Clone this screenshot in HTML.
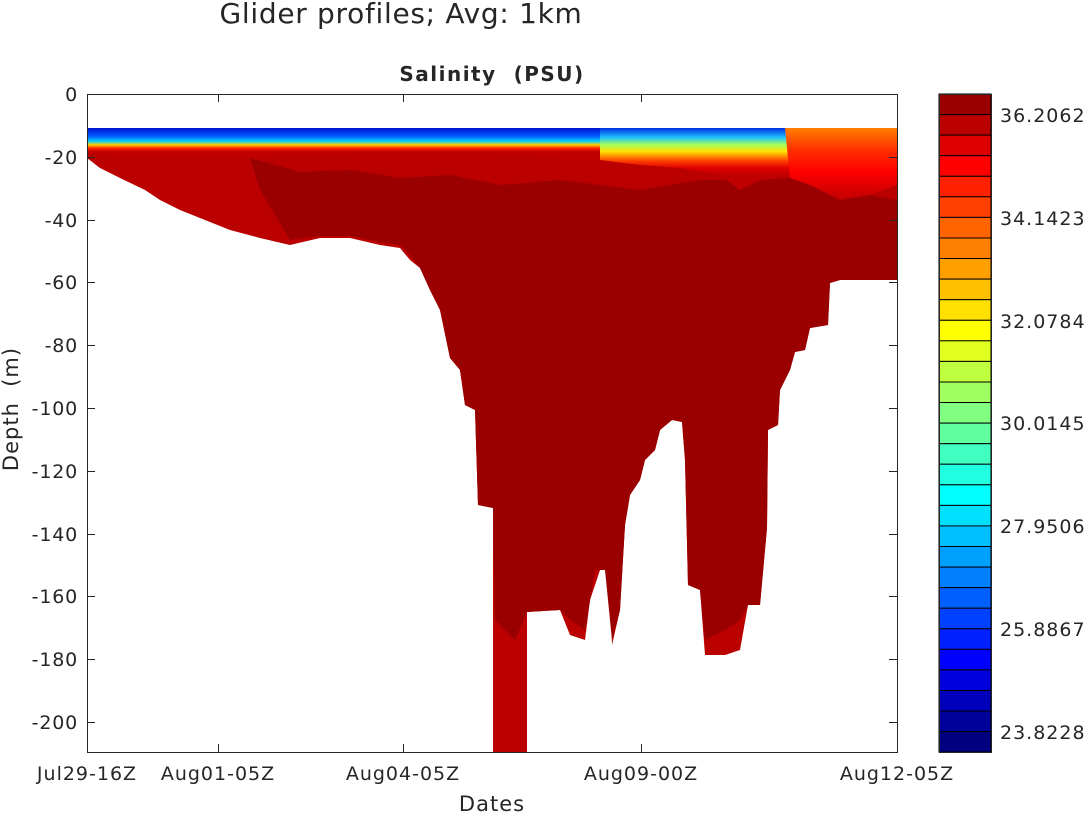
<!DOCTYPE html>
<html><head><meta charset="utf-8"><style>
body{margin:0;background:#fff;}
text{font-family:"DejaVu Sans","Liberation Sans",sans-serif;fill:#262626;}
</style></head><body>
<svg width="1086" height="814" xmlns="http://www.w3.org/2000/svg">
<defs>
<linearGradient id="gA" x1="0" y1="128" x2="0" y2="152" gradientUnits="userSpaceOnUse">
<stop offset="0" stop-color="#0010d0"/><stop offset="0.35" stop-color="#0060ff"/><stop offset="0.55" stop-color="#00d0ff"/><stop offset="0.7" stop-color="#ffd000"/><stop offset="0.85" stop-color="#ff2000"/><stop offset="1" stop-color="#c00000"/>
</linearGradient>
<linearGradient id="gB" x1="0" y1="128" x2="0" y2="175" gradientUnits="userSpaceOnUse">
<stop offset="0" stop-color="#0030e0"/><stop offset="0.2" stop-color="#20c0ff"/><stop offset="0.35" stop-color="#a0ff60"/><stop offset="0.5" stop-color="#ffe000"/><stop offset="0.7" stop-color="#ff4000"/><stop offset="0.85" stop-color="#e00000"/><stop offset="1" stop-color="#c00000"/>
</linearGradient>
<linearGradient id="gC" x1="0" y1="128" x2="0" y2="200" gradientUnits="userSpaceOnUse">
<stop offset="0" stop-color="#ff8000"/><stop offset="0.3" stop-color="#ff3000"/><stop offset="0.6" stop-color="#ff0000"/><stop offset="1" stop-color="#c00000"/>
</linearGradient>
</defs>
<text x="401" y="23" font-size="28" letter-spacing="0.7" text-anchor="middle">Glider profiles; Avg: 1km</text>
<text x="492" y="81" font-size="20" font-weight="bold" letter-spacing="1.5" text-anchor="middle">Salinity&#160;&#160;(PSU)</text>
<rect x="87" y="94" width="810" height="658" fill="#fff"/>
<polygon fill="#bb0000" points="87,128 897,128 897,280 840,280 830,283 828,325 810,328 805,350 795,352 790,370 780,390 778,425 768,430 767,528 760,605 748,605 740,650 725,655 705,655 700,590 688,585 685,460 682,422 672,420 660,430 655,450 645,460 640,480 630,495 625,525 620,610 612,645 610,570 600,570 590,600 585,640 570,635 560,610 527,612 527,752 493,752 493,508 478,505 475,410 465,405 460,370 450,358 440,310 430,290 420,268 410,260 400,248 380,245 350,238 320,238 290,245 260,238 230,230 200,218 180,210 160,200 145,190 120,178 100,168 87,158"/>
<polygon fill="#9b0000" points="250,158 300,172 350,170 400,178 450,175 500,185 560,180 640,190 700,180 760,180 830,175 870,195 897,200 897,280 840,280 830,283 828,325 810,328 805,350 795,352 790,370 780,390 778,425 768,430 767,528 760,605 748,605 740,620 725,630 705,640 700,590 688,585 685,460 682,422 672,420 660,430 655,450 645,460 640,480 630,495 625,525 620,610 612,640 605,570 595,570 590,600 585,630 570,620 560,610 527,612 515,640 495,620 493,508 478,505 475,410 465,405 460,370 450,358 440,310 430,290 420,268 410,255 400,245 380,242 350,236 320,236 290,240 275,215 260,190"/>
<polygon fill="url(#gA)" points="87,128 610,128 610,160 560,158 500,154 400,152 300,156 200,158 120,158 87,152"/>
<polygon fill="url(#gB)" points="600,128 790,128 790,175 760,180 740,190 720,175 680,168 640,165 600,160"/>
<polygon fill="url(#gC)" points="785,128 897,128 897,185 870,195 840,200 810,185 790,178"/>
<rect x="87.5" y="94.5" width="810" height="658" fill="none" stroke="#262626"/>
<g stroke="#262626" stroke-width="1">
<line x1="87" y1="157.5" x2="95" y2="157.5"/><line x1="889" y1="157.5" x2="897" y2="157.5"/>
<line x1="87" y1="220.5" x2="95" y2="220.5"/><line x1="889" y1="220.5" x2="897" y2="220.5"/>
<line x1="87" y1="282.5" x2="95" y2="282.5"/><line x1="889" y1="282.5" x2="897" y2="282.5"/>
<line x1="87" y1="345.5" x2="95" y2="345.5"/><line x1="889" y1="345.5" x2="897" y2="345.5"/>
<line x1="87" y1="408.5" x2="95" y2="408.5"/><line x1="889" y1="408.5" x2="897" y2="408.5"/>
<line x1="87" y1="471.5" x2="95" y2="471.5"/><line x1="889" y1="471.5" x2="897" y2="471.5"/>
<line x1="87" y1="534.5" x2="95" y2="534.5"/><line x1="889" y1="534.5" x2="897" y2="534.5"/>
<line x1="87" y1="596.5" x2="95" y2="596.5"/><line x1="889" y1="596.5" x2="897" y2="596.5"/>
<line x1="87" y1="659.5" x2="95" y2="659.5"/><line x1="889" y1="659.5" x2="897" y2="659.5"/>
<line x1="87" y1="722.5" x2="95" y2="722.5"/><line x1="889" y1="722.5" x2="897" y2="722.5"/>
<line x1="218.5" y1="752" x2="218.5" y2="744"/><line x1="218.5" y1="94" x2="218.5" y2="102"/>
<line x1="403.5" y1="752" x2="403.5" y2="744"/><line x1="403.5" y1="94" x2="403.5" y2="102"/>
<line x1="641.5" y1="752" x2="641.5" y2="744"/><line x1="641.5" y1="94" x2="641.5" y2="102"/>
</g>
<g font-size="19" letter-spacing="0.8" text-anchor="end">
<text x="78" y="101">0</text><text x="78" y="164">-20</text><text x="78" y="227">-40</text><text x="78" y="289">-60</text><text x="78" y="352">-80</text><text x="78" y="415">-100</text><text x="78" y="478">-120</text><text x="78" y="541">-140</text><text x="78" y="603">-160</text><text x="78" y="666">-180</text><text x="78" y="729">-200</text>
</g>
<g font-size="19" letter-spacing="1" text-anchor="middle">
<text x="87" y="780">Jul29-16Z</text><text x="218" y="780">Aug01-05Z</text><text x="403" y="780">Aug04-05Z</text><text x="641" y="780">Aug09-00Z</text><text x="897" y="780">Aug12-05Z</text>
</g>
<text x="492" y="811" font-size="21" letter-spacing="1" text-anchor="middle">Dates</text>
<text transform="translate(18,409) rotate(-90)" font-size="21" letter-spacing="1" text-anchor="middle">Depth&#160;&#160;(m)</text>
<g stroke="#000" stroke-width="1">
<rect x="939" y="94.0" width="52" height="20.6" fill="#9b0000"/>
<rect x="939" y="114.6" width="52" height="20.6" fill="#bb0000"/>
<rect x="939" y="135.1" width="52" height="20.6" fill="#dd0000"/>
<rect x="939" y="155.7" width="52" height="20.6" fill="#ff0000"/>
<rect x="939" y="176.3" width="52" height="20.6" fill="#ff2000"/>
<rect x="939" y="196.8" width="52" height="20.6" fill="#ff4000"/>
<rect x="939" y="217.4" width="52" height="20.6" fill="#ff6400"/>
<rect x="939" y="238.0" width="52" height="20.6" fill="#ff8000"/>
<rect x="939" y="258.5" width="52" height="20.6" fill="#ffa000"/>
<rect x="939" y="279.1" width="52" height="20.6" fill="#ffc000"/>
<rect x="939" y="299.7" width="52" height="20.6" fill="#ffe000"/>
<rect x="939" y="320.3" width="52" height="20.6" fill="#ffff00"/>
<rect x="939" y="340.8" width="52" height="20.6" fill="#e0ff20"/>
<rect x="939" y="361.4" width="52" height="20.6" fill="#c0ff40"/>
<rect x="939" y="382.0" width="52" height="20.6" fill="#a0ff60"/>
<rect x="939" y="402.5" width="52" height="20.6" fill="#80ff80"/>
<rect x="939" y="423.1" width="52" height="20.6" fill="#60ffa0"/>
<rect x="939" y="443.7" width="52" height="20.6" fill="#40ffc0"/>
<rect x="939" y="464.2" width="52" height="20.6" fill="#20ffe0"/>
<rect x="939" y="484.8" width="52" height="20.6" fill="#00ffff"/>
<rect x="939" y="505.4" width="52" height="20.6" fill="#00e0ff"/>
<rect x="939" y="525.9" width="52" height="20.6" fill="#00c0ff"/>
<rect x="939" y="546.5" width="52" height="20.6" fill="#00a0ff"/>
<rect x="939" y="567.1" width="52" height="20.6" fill="#0080ff"/>
<rect x="939" y="587.6" width="52" height="20.6" fill="#0060ff"/>
<rect x="939" y="608.2" width="52" height="20.6" fill="#0040ff"/>
<rect x="939" y="628.8" width="52" height="20.6" fill="#0020ff"/>
<rect x="939" y="649.3" width="52" height="20.6" fill="#0000ff"/>
<rect x="939" y="669.9" width="52" height="20.6" fill="#0000dd"/>
<rect x="939" y="690.5" width="52" height="20.6" fill="#0000bb"/>
<rect x="939" y="711.0" width="52" height="20.6" fill="#00009b"/>
<rect x="939" y="731.6" width="52" height="20.4" fill="#000080"/>
</g>
<rect x="939.5" y="94.5" width="52" height="658" fill="none" stroke="#262626"/>
<g font-size="19" letter-spacing="1">
<text x="1000" y="122">36.2062</text><text x="1000" y="225">34.1423</text><text x="1000" y="328">32.0784</text><text x="1000" y="430">30.0145</text><text x="1000" y="533">27.9506</text><text x="1000" y="636">25.8867</text><text x="1000" y="739">23.8228</text>
</g>
</svg>
</body></html>
